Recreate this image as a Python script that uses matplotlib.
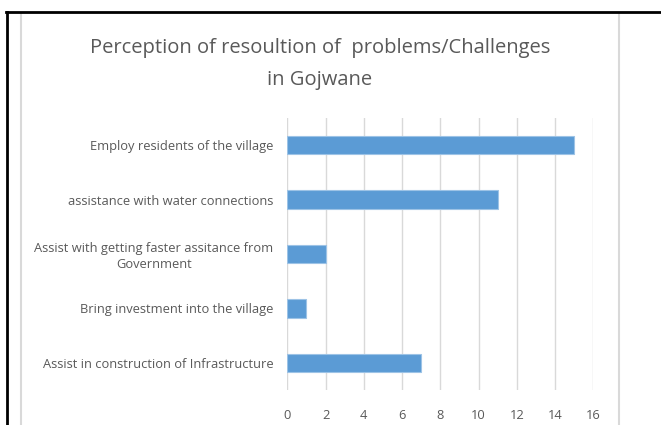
import matplotlib
matplotlib.use("Agg")
import matplotlib.pyplot as plt
from matplotlib.lines import Line2D

# Survey responses on how problems/challenges in Gojwane could be resolved
categories = [
    "Assist in construction of Infrastructure",
    "Bring investment into the village",
    "Assist with getting faster assitance from\nGovernment",
    "assistance with water connections",
    "Employ residents of the village",
]
counts = [7, 1, 2, 11, 15]
x_ticks = [0, 2, 4, 6, 8, 10, 12, 14, 16]
title = "Perception of resoultion of  problems/Challenges\nin Gojwane"

W, H = 661, 425
TEXT = "#595959"
GRID = "#D9D9D9"
BAR = "#5B9BD5"

plt.rcParams["font.family"] = ["Open Sans", "DejaVu Sans"]

fig = plt.figure(figsize=(W / 100, H / 100), dpi=100)
fig.patch.set_facecolor("white")


def fx(px):
    return px / W


def fy(py):
    return 1 - py / H


# plot area in pixel coordinates
left, right, top, bottom = 287.3, 593.3, 118, 390
ax = fig.add_axes([fx(left), fy(bottom), fx(right) - fx(left), fy(top) - fy(bottom)])

ypos = list(range(len(categories)))
ax.barh(ypos, counts, height=0.34, color=BAR, edgecolor="#9DC3E6", linewidth=0.8, zorder=3)

ax.set_xlim(0, 16)
ax.set_ylim(-0.5, len(categories) - 0.5)
ax.set_xticks(x_ticks)
ax.set_xticklabels([str(t) for t in x_ticks])
ax.set_yticks(ypos)
ax.set_yticklabels(categories, multialignment="center")
ax.tick_params(axis="both", length=0, labelcolor=TEXT, labelsize=9.3)
ax.tick_params(axis="y", pad=10)
ax.tick_params(axis="x", pad=14)
ax.grid(axis="x", color=GRID, linewidth=1, zorder=0)
for s in ax.spines.values():
    s.set_visible(False)

# chart title
fig.text(fx(320), fy(64), title, ha="center", va="center", color=TEXT,
         fontsize=14.5, linespacing=1.75)

# chart area border (light gray) and page border (black)
fig.add_artist(Line2D([fx(21), fx(21)], [fy(13), fy(425)], color="#D9D9D9", lw=1.5))
fig.add_artist(Line2D([fx(619), fx(619)], [fy(13), fy(425)], color="#D9D9D9", lw=1.5))
fig.add_artist(Line2D([fx(6), fx(661)], [fy(12), fy(12)], color="black", lw=2))
fig.add_artist(Line2D([fx(7), fx(7)], [fy(12), fy(425)], color="black", lw=2))

fig.savefig("out.png", dpi=100)
